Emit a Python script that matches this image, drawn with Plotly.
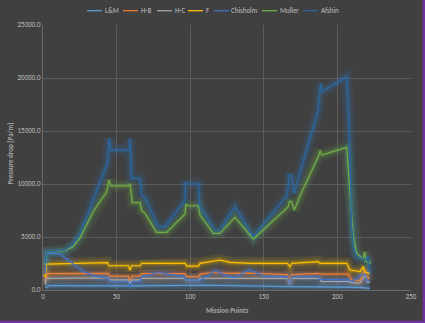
import plotly.graph_objects as go

# ---------------- data ----------------
series_names = ["L&M", "H-B", "H-C", "F", "Chisholm", "Muller", "Afshin"]

lm_x = [1.4, 4.8, 60, 113, 166, 207, 215, 222]
lm_y = [250, 420, 380, 450, 320, 300, 250, 160]

hb_x = [1.5, 2.5, 44.4, 45.5, 58, 59.1, 60.5, 65.9, 67, 96.5, 97.6, 105.5, 106.7, 115, 127, 140,
        166, 167.8, 169, 187, 188, 207.4, 209.7, 215.4, 218.8, 220, 222]
hb_y = [800, 1550, 1570, 1300, 1300, 900, 1300, 1300, 1550, 1550, 1260, 1260, 1500, 1650, 1570, 1600,
        1450, 800, 1450, 1570, 1500, 1500, 940, 900, 1890, 1200, 1100]

hc_x = [1.5, 2.0, 44.4, 45.5, 58, 59.1, 60.5, 65.9, 67, 96.5, 97.6, 105.5, 106.7, 166, 167.8, 169,
        188.2, 189, 207.4, 209.7, 215.4, 218.8, 220, 222]
hc_y = [500, 1100, 1150, 950, 950, 600, 950, 950, 1100, 1100, 900, 900, 1100, 1100, 550, 1100,
        1100, 800, 800, 700, 650, 1400, 800, 700]

f_x = [1.5, 2.5, 43.7, 44.8, 58, 59.1, 60.2, 65.9, 67, 96.5, 97.6, 105.5, 106.7, 116.8, 120.2, 127,
       140.6, 166, 167.8, 169, 187, 188, 206.3, 208.6, 215.4, 217.6, 218.5, 222]
f_y = [1200, 2450, 2580, 2290, 2290, 1890, 2290, 2290, 2520, 2520, 2260, 2260, 2520, 2760, 2830, 2600,
       2520, 2520, 2200, 2520, 2670, 2520, 2520, 1890, 1730, 2200, 1700, 1570]

ch_x = [1.5, 2.5, 11.5, 27.4, 36.5, 44.4, 45.5, 58, 59.1, 60.5, 65.9, 67, 78.3, 95.3, 97.6, 107,
        116.8, 127, 129.3, 140, 152, 166, 167.8, 169, 187, 188, 207.4, 210, 215, 218.8, 220, 222]
ch_y = [1500, 3460, 3400, 1730, 1260, 1100, 800, 800, 310, 800, 800, 1260, 1670, 1260, 940, 940,
        1800, 1260, 1150, 1890, 1260, 1260, 630, 1230, 1230, 1000, 950, 800, 1300, 1500, 900, 800]

mu_x = [1.5, 2.5, 15, 20.4, 25, 28, 35, 43.3, 44.8, 46, 58.7, 59.1, 60.7, 65.9, 67, 69.3, 77.2, 84,
        96.5, 97.1, 98, 105.5, 106.7, 115.7, 120.2, 130.4, 142.9, 166.6, 167.3, 168.8, 170.7, 175,
        187.5, 188.2, 189.3, 206.3, 208.6, 210.8, 213.1, 217.6, 218.5, 219.5, 223]
mu_y = [2400, 3520, 3710, 4090, 4900, 5700, 7600, 9270, 10380, 9810, 9850, 10040, 8240, 8240, 7480,
        7230, 5440, 5440, 7170, 8110, 7950, 7950, 7075, 5350, 5350, 6860, 4810, 7860, 8330, 8330,
        7550, 9000, 12740, 13150, 12740, 13460, 9120, 5030, 3460, 2900, 3600, 2700, 2520]

af_x = [1.5, 2.5, 15, 20, 25, 30, 43.7, 45, 46, 58.7, 59.1, 60.2, 65.9, 67, 69.3, 78.3, 82.9, 96.5,
        96.9, 97.6, 105.5, 106.7, 116.8, 120.2, 130.4, 142.9, 166, 167.3, 168.8, 170.5, 187, 188.6,
        189.3, 206.3, 208, 209.7, 211, 213.1, 219.9, 220.5, 221, 222.1]
af_y = [2500, 3550, 3750, 4250, 5300, 7000, 11950, 14300, 13200, 13200, 14300, 10540, 10540, 8960,
        8700, 5970, 5970, 8490, 10220, 10000, 10000, 7860, 5660, 5660, 7860, 5030, 8960, 10850, 10850,
        9120, 16980, 19500, 18700, 20120, 15400, 5970, 4000, 3140, 2830, 3200, 2600, 1570]

x_ticks = [0, 50, 100, 150, 200, 250]
y_ticks = [0, 5000, 10000, 15000, 20000, 25000]
x_title = "Mission Points"
y_title = "Pressure drop [Pa/m]"

# ---------------- styling ----------------
colors = ["#5B9BD5", "#ED7D31", "#A5A5A5", "#FFC000", "#4472C4", "#70AD47", "#2A66A0"]
glow_colors = ["#5B9BD5", "#ED7D31", "#A5A5A5", "#FFC000", "#4472C4", "#70AD47", "#2E75B6"]
xs = [lm_x, hb_x, hc_x, f_x, ch_x, mu_x, af_x]
ys = [lm_y, hb_y, hc_y, f_y, ch_y, mu_y, af_y]

BG = "#404040"
GRID = "#5C5C5C"
TXT = "#BFBFBF"
FONT = "Carlito, 'Liberation Sans Narrow', 'Arial Narrow', 'Liberation Sans', sans-serif"

def rgba(hex_c, a):
    h = hex_c.lstrip("#")
    r, g, b = int(h[0:2], 16), int(h[2:4], 16), int(h[4:6], 16)
    return f"rgba({r},{g},{b},{a})"

fig = go.Figure()

# glow layers
for name, c, x, y in zip(series_names, glow_colors, xs, ys):
    for w, a in ((12, 0.10), (7, 0.14), (3.5, 0.2)):
        fig.add_trace(go.Scatter(x=x, y=y, mode="lines", line=dict(color=rgba(c, a), width=w),
                                 hoverinfo="skip", showlegend=False, legendgroup=name))
# main lines
for name, c, x, y in zip(series_names, colors, xs, ys):
    fig.add_trace(go.Scatter(x=x, y=y, mode="lines", name=name, line=dict(color=c, width=1.2),
                             showlegend=False, legendgroup=name))

# plot area in pixels
L, R, T, B = 43, 411, 25, 290
W, H = 425, 323

def px_x(p):
    return (p - L) / (R - L)

def px_y(p):
    return (B - p) / (B - T)

# manual legend (Excel-style short line keys)
legend_start = [87, 123, 157, 188, 214, 262, 303]
legend_y = 10.7
shapes = []
annotations = []
for name, c, sx in zip(series_names, colors, legend_start):
    shapes.append(dict(type="line", xref="paper", yref="paper", x0=px_x(sx), x1=px_x(sx + 15),
                       y0=px_y(legend_y), y1=px_y(legend_y), line=dict(color=c, width=1.3)))
    annotations.append(dict(xref="paper", yref="paper", x=px_x(sx + 15.5), y=px_y(legend_y),
                            xanchor="left", yanchor="middle", text=name, showarrow=False,
                            font=dict(size=7, color=TXT, family=FONT)))

# axis titles at fixed pixel positions
annotations.append(dict(xref="paper", yref="paper", x=px_x(227), y=px_y(310), text="<b>" + x_title + "</b>",
                        showarrow=False, xanchor="center", yanchor="middle",
                        font=dict(size=7, color="#A6A6A6", family=FONT)))
annotations.append(dict(xref="paper", yref="paper", x=px_x(9.5), y=px_y(154), text="<b>" + y_title + "</b>",
                        showarrow=False, xanchor="center", yanchor="middle", textangle=-90,
                        font=dict(size=7, color="#A6A6A6", family=FONT)))

# purple frame strips (right and bottom)
PURPLE = "#7030A0"
shapes.append(dict(type="rect", xref="paper", yref="paper", x0=px_x(422.6), x1=px_x(427),
                   y0=px_y(330), y1=px_y(-5), fillcolor=PURPLE, line=dict(width=0), layer="above"))
shapes.append(dict(type="rect", xref="paper", yref="paper", x0=px_x(-5), x1=px_x(427),
                   y0=px_y(330), y1=px_y(320.8), fillcolor=PURPLE, line=dict(width=0), layer="above"))

fig.update_layout(
    width=W, height=H,
    margin=dict(l=L, r=W - R, t=T, b=H - B, autoexpand=False),
    paper_bgcolor=BG, plot_bgcolor=BG,
    font=dict(family=FONT, size=7, color=TXT),
    showlegend=False,
    shapes=shapes, annotations=annotations,
    xaxis=dict(range=[0, 250], tickvals=x_ticks, ticktext=[str(v) for v in x_ticks],
               showgrid=True, gridcolor=GRID, gridwidth=1, zeroline=False, automargin=False,
               showline=True, linecolor="#6A6A6A", linewidth=1, ticks="",
               tickfont=dict(size=7, color=TXT, family=FONT)),
    yaxis=dict(range=[0, 25000], tickvals=y_ticks, tickformat=".1f",
               showgrid=True, gridcolor=GRID, gridwidth=1, zeroline=False, automargin=False,
               showline=True, linecolor="#6A6A6A", linewidth=1, ticks="",
               tickfont=dict(size=7, color=TXT, family=FONT)),
)

fig.write_html("out.html")
